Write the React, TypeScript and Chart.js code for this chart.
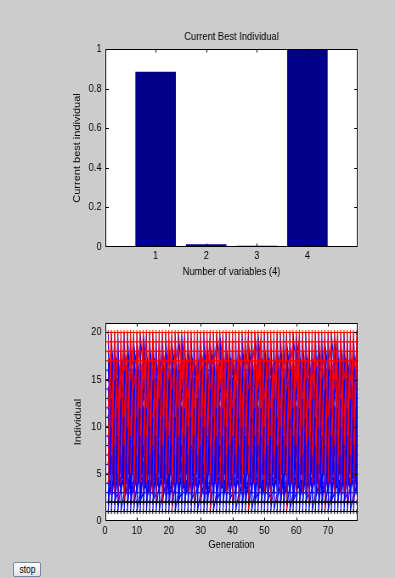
import { useEffect, useRef } from "react";
import { Chart, registerables } from "chart.js";

Chart.register(...registerables);

// ---------- top plot: current best individual ----------
const variableLabels = [1, 2, 3, 4];
const bestIndividual = [0.885, 0.014, 0.006, 1.0];
const barYTicks = [0, 0.2, 0.4, 0.6, 0.8, 1];

// ---------- bottom plot: genealogy ----------
const genXTicks = [0, 10, 20, 30, 40, 50, 60, 70];
const genYTicks = [0, 5, 10, 15, 20];
const firstGeneration = 1;
const lastGeneration = 79;
const eliteRows = [1, 2];
const crossoverRows = [3, 4, 5, 6, 7, 8, 9, 10, 11, 12, 13, 14, 15, 16];
const mutationRows = [17, 18, 19, 20];
const eliteParents = [1, 2];
// parents (two per crossover child), reused cyclically
const crossoverParentPatterns = [
  [5, 11, 2, 17, 9, 14, 1, 8, 13, 20, 6, 3, 16, 10, 4, 19, 12, 7, 18, 2, 15, 9, 1, 13, 8, 18, 11, 6],
  [14, 3, 7, 19, 10, 2, 18, 6, 1, 11, 15, 8, 3, 13, 20, 5, 9, 16, 2, 12, 6, 17, 11, 4, 19, 1, 7, 14],
  [2, 9, 16, 5, 12, 18, 4, 1, 8, 15, 19, 11, 6, 2, 13, 7, 1, 20, 17, 3, 10, 14, 5, 8, 3, 12, 14, 18],
  [19, 6, 1, 12, 7, 3, 15, 10, 5, 17, 2, 14, 11, 20, 8, 1, 16, 4, 3, 9, 13, 6, 18, 2, 9, 15, 4, 11],
  [8, 1, 13, 16, 3, 7, 20, 12, 10, 4, 6, 19, 2, 11, 17, 5, 14, 9, 1, 15, 7, 3, 12, 18, 5, 10, 16, 2],
  [11, 15, 4, 2, 18, 9, 6, 13, 1, 19, 9, 5, 14, 3, 2, 16, 20, 8, 12, 1, 3, 17, 10, 7, 15, 4, 6, 12],
  [3, 18, 10, 7, 1, 14, 12, 2, 17, 6, 4, 11, 19, 9, 7, 15, 2, 5, 16, 13, 8, 1, 20, 10, 6, 3, 13, 17],
  [16, 4, 2, 10, 13, 1, 5, 18, 9, 12, 20, 3, 7, 14, 1, 6, 11, 19, 4, 8, 15, 2, 3, 16, 12, 9, 18, 5],
  [6, 13, 17, 1, 4, 20, 11, 8, 2, 15, 14, 7, 1, 10, 18, 3, 5, 12, 9, 2, 19, 16, 7, 4, 13, 1, 10, 19],
  [1, 7, 12, 19, 15, 4, 3, 16, 18, 10, 8, 2, 13, 5, 10, 17, 6, 1, 20, 14, 2, 11, 17, 6, 4, 13, 9, 3],
  [12, 2, 5, 15, 20, 11, 9, 1, 4, 18, 16, 12, 3, 8, 14, 19, 1, 10, 7, 4, 18, 13, 2, 9, 16, 6, 5, 20],
  [9, 20, 3, 6, 11, 17, 19, 5, 7, 1, 1, 16, 17, 10, 5, 2, 12, 15, 18, 7, 4, 1, 14, 11, 2, 19, 20, 8],
];
// parents of the mutation children, reused cyclically
const mutationParentPatterns = [
  [9, 4, 6, 12],
  [13, 7, 3, 10],
  [11, 15, 3, 8],
  [5, 12, 2, 9],
  [15, 4, 7, 13],
  [8, 16, 11, 2],
  [12, 6, 3, 10],
  [10, 5, 9, 15],
  [14, 8, 1, 5],
  [7, 11, 16, 4],
  [16, 9, 4, 12],
  [3, 14, 8, 15],
];

const FONT = '"Liberation Sans", Arial, sans-serif';
const PAGE_W = 395;
const CANVAS_W = 465; // drawn wide, then squeezed horizontally like the reference figure
const SQUEEZE = PAGE_W / CANVAS_W;

type Pt = { x: number; y: number | null };

function buildGenealogy() {
  const blue: Pt[] = [];
  const red: Pt[] = [];
  const black: Pt[] = [];
  const blueM: Pt[] = [];
  const redM: Pt[] = [];
  const blackM: Pt[] = [];
  for (let g = firstGeneration; g <= lastGeneration; g++) {
    eliteRows.forEach((r) => blackM.push({ x: g, y: r }));
    crossoverRows.forEach((r) => blueM.push({ x: g, y: r }));
    mutationRows.forEach((r) => redM.push({ x: g, y: r }));
    if (g === firstGeneration) continue;
    const k = (g - firstGeneration - 1) % crossoverParentPatterns.length;
    const cp = crossoverParentPatterns[k];
    const mp = mutationParentPatterns[k];
    crossoverRows.forEach((child, i) => {
      blue.push({ x: g - 1, y: cp[2 * i] }, { x: g, y: child }, { x: g, y: null });
      blue.push({ x: g - 1, y: cp[2 * i + 1] }, { x: g, y: child }, { x: g, y: null });
    });
    mutationRows.forEach((child, i) => {
      red.push({ x: g - 1, y: mp[i] }, { x: g, y: child }, { x: g, y: null });
    });
    eliteRows.forEach((child, i) => {
      black.push({ x: g - 1, y: eliteParents[i] }, { x: g, y: child }, { x: g, y: null });
    });
  }
  return { blue, red, black, blueM, redM, blackM };
}

const axesPlugin = {
  id: "matlabAxes",
  beforeDraw(chart: any) {
    const { ctx, chartArea: a } = chart;
    ctx.save();
    ctx.fillStyle = "#ffffff";
    ctx.fillRect(a.left, a.top, a.right - a.left, a.bottom - a.top);
    ctx.restore();
  },
  afterDraw(chart: any) {
    const { ctx, chartArea: a, scales } = chart;
    ctx.save();
    ctx.strokeStyle = "#000";
    ctx.lineWidth = 1;
    const L = Math.round(a.left) + 0.5;
    const R = Math.round(a.right) - 0.5;
    const T = Math.round(a.top) + 0.5;
    const B = Math.round(a.bottom) - 0.5;
    ctx.strokeRect(L, T, R - L, B - T);
    const lenX = 3;
    const lenY = 3.5;
    ctx.beginPath();
    scales.x.ticks.forEach((t: any) => {
      const px = Math.round(scales.x.getPixelForValue(t.value)) + 0.5;
      if (px <= L + 1 || px >= R - 1) return;
      ctx.moveTo(px, B);
      ctx.lineTo(px, B - lenX);
      ctx.moveTo(px, T);
      ctx.lineTo(px, T + lenX);
    });
    scales.y.ticks.forEach((t: any) => {
      const py = Math.round(scales.y.getPixelForValue(t.value)) + 0.5;
      if (py <= T + 1 || py >= B - 1) return;
      ctx.moveTo(L, py);
      ctx.lineTo(L + lenY, py);
      ctx.moveTo(R, py);
      ctx.lineTo(R - lenY, py);
    });
    ctx.stroke();
    ctx.restore();
  },
};

const tickFont = { family: FONT, size: 11 };
const labelFont = { family: FONT, size: 11 };

// page-space layout converted to canvas space
const AREA_LEFT = 105 / SQUEEZE;
const AREA_RIGHT_PAD = CANVAS_W - 358 / SQUEEZE;

export default function App() {
  const topRef = useRef<HTMLCanvasElement>(null);
  const botRef = useRef<HTMLCanvasElement>(null);

  useEffect(() => {
    const top = new Chart(topRef.current!, {
      type: "bar",
      data: {
        datasets: [
          {
            data: variableLabels.map((v, i) => ({ x: v, y: bestIndividual[i] })) as any,
            backgroundColor: "#00008b",
            borderWidth: 0,
            barPercentage: 0.8,
            categoryPercentage: 1,
          },
        ],
      },
      options: {
        animation: false,
        responsive: false,
        events: [],
        layout: { padding: { left: 0, right: AREA_RIGHT_PAD, top: 0, bottom: 11.4 } },
        plugins: {
          legend: { display: false },
          tooltip: { enabled: false },
          title: {
            display: true,
            text: "Current Best Individual",
            color: "#000",
            fullSize: false,
            font: { family: FONT, size: 11, weight: "normal" },
            padding: { top: 30.4, bottom: 5.4 },
          },
        },
        scales: {
          x: {
            type: "linear",
            min: 0,
            max: 5,
            offset: false,
            grid: { display: false, drawTicks: false },
            border: { display: false },
            afterBuildTicks: (s: any) => {
              s.ticks = variableLabels.map((v) => ({ value: v }));
            },
            ticks: { color: "#000", font: tickFont, padding: 2.4, callback: (v: any) => String(v) },
            title: { display: true, text: "Number of variables (4)", color: "#000", font: labelFont, padding: { top: 0, bottom: 0 } },
            afterFit: (s: any) => {
              s.height = 31.6;
            },
          },
          y: {
            min: 0,
            max: 1,
            grid: { display: false, drawTicks: false },
            border: { display: false },
            afterBuildTicks: (s: any) => {
              s.ticks = barYTicks.map((v) => ({ value: v }));
            },
            ticks: { color: "#000", font: tickFont, padding: 4, callback: (v: any) => String(v) },
            title: { display: true, text: "Current best individual", color: "#000", font: labelFont, padding: { top: 77 / SQUEEZE - 6.6, bottom: 0 } },
            afterFit: (s: any) => {
              s.width = AREA_LEFT;
            },
          },
        },
      } as any,
      plugins: [axesPlugin],
    });

    const g = buildGenealogy();
    const marker = (data: Pt[], color: string) => ({
      data,
      showLine: false,
      pointStyle: "cross",
      pointRadius: 2.5,
      pointBorderWidth: 1,
      borderColor: color,
      backgroundColor: color,
    });
    const lines = (data: Pt[], color: string) => ({
      data,
      showLine: true,
      spanGaps: false,
      pointRadius: 0,
      borderWidth: 1.1,
      borderColor: color,
      backgroundColor: color,
    });

    const bot = new Chart(botRef.current!, {
      type: "scatter",
      data: {
        datasets: [
          marker(g.blackM, "#000000"),
          marker(g.redM, "#ff0000"),
          lines(g.black, "#000000"),
          lines(g.red, "#ff0000"),
          marker(g.blueM, "#0000ff"),
          lines(g.blue, "#0000ff"),
        ] as any,
      },
      options: {
        animation: false,
        responsive: false,
        events: [],
        layout: { padding: { left: 0, right: AREA_RIGHT_PAD, top: 33, bottom: 8.4 } },
        plugins: { legend: { display: false }, tooltip: { enabled: false } },
        scales: {
          x: {
            type: "linear",
            min: 0,
            max: 79.4,
            grid: { display: false, drawTicks: false },
            border: { display: false },
            afterBuildTicks: (s: any) => {
              s.ticks = genXTicks.map((v) => ({ value: v }));
            },
            ticks: { color: "#000", font: tickFont, padding: 3.4, callback: (v: any) => String(v) },
            title: { display: true, text: "Generation", color: "#000", font: labelFont, padding: { top: 0, bottom: 0 } },
            afterFit: (s: any) => {
              s.height = 30.6;
            },
          },
          y: {
            type: "linear",
            min: 0,
            max: 21,
            grid: { display: false, drawTicks: false },
            border: { display: false },
            afterBuildTicks: (s: any) => {
              s.ticks = genYTicks.map((v) => ({ value: v }));
            },
            ticks: { color: "#000", font: tickFont, padding: 4, callback: (v: any) => String(v) },
            title: { display: true, text: "Individual", color: "#000", font: labelFont, padding: { top: 78 / SQUEEZE - 6.6, bottom: 0 } },
            afterFit: (s: any) => {
              s.width = AREA_LEFT;
            },
          },
        },
      } as any,
      plugins: [axesPlugin],
    });

    return () => {
      top.destroy();
      bot.destroy();
    };
  }, []);

  const squeeze = { transform: `scaleX(${SQUEEZE})`, transformOrigin: "0 0" };

  return (
    <div
      style={{
        position: "fixed",
        left: 0,
        top: 0,
        width: PAGE_W,
        height: 578,
        background: "#cccccc",
        overflow: "hidden",
      }}
    >
      <canvas ref={topRef} width={CANVAS_W} height={290} style={{ position: "absolute", left: 0, top: 0, ...squeeze }} />
      <canvas ref={botRef} width={CANVAS_W} height={270} style={{ position: "absolute", left: 0, top: 290, ...squeeze }} />
      <button
        style={{
          position: "absolute",
          left: 13,
          top: 562,
          width: 28,
          height: 15,
          padding: 0,
          margin: 0,
          border: "1px solid #6f88a3",
          borderRadius: 2,
          background: "linear-gradient(#ffffff, #e4e4e4)",
          fontFamily: FONT,
          fontSize: 10,
          color: "#000",
          lineHeight: "13px",
          overflow: "hidden",
        }}
      >
        <span style={{ display: "inline-block", transform: `scaleX(${SQUEEZE})` }}>stop</span>
      </button>
    </div>
  );
}
